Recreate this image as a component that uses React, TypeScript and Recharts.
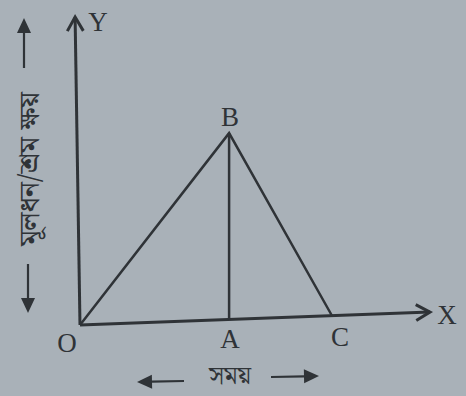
import React from 'react'
import { LineChart, Line, XAxis, YAxis, ReferenceDot } from 'recharts'

// Diagram points, in chart units (x: time, y: depreciation).
// The photo is slightly skewed, so the x axis rises a little toward X.
const POINT_NAMES = ['O', 'A', 'B', 'C']
const POINT_X = [0, 42.6, 42.6, 72]
const POINT_Y = [0, 1.8, 62.3, 3.0]

const X_AXIS_END = { x: 100, y: 4.2 }
const Y_AXIS_END = { x: -1.4, y: 100 }

const Y_TITLE = 'মূলধন/শ্রম ক্ষয়'
const X_TITLE = 'সময়'

const INK = '#2f3337'
const PAPER = '#a9b1b8'
const SERIF = '"Liberation Serif", "DejaVu Serif", serif'
const BENGALI = '"Noto Serif Bengali", "Noto Sans Bengali", "Lohit Bengali", serif'

const pt = (name: string) => {
  const i = POINT_NAMES.indexOf(name)
  return { x: POINT_X[i], y: POINT_Y[i] }
}

const xAxisData = [pt('O'), X_AXIS_END]
const yAxisData = [pt('O'), Y_AXIS_END]
const triangleData = [pt('O'), pt('B'), pt('C')]
const heightData = [pt('B'), pt('A')]

// label offsets from each point (px)
const LABEL_OFFSETS: Record<string, [number, number]> = {
  O: [-13, 18],
  A: [1, 20],
  B: [1, -16],
  C: [8, 21],
  X: [17, 3],
  Y: [23, 5],
}

// open chevron arrowhead on the last point of an axis line
const arrowDot = (props: any) => {
  const { cx, cy, index, points } = props
  if (index !== 1 || !points || points.length < 2) return <g key={index} />
  const p0 = points[0]
  const ang = Math.atan2(cy - p0.y, cx - p0.x)
  const len = 14
  const half = 8
  const bx = cx - len * Math.cos(ang)
  const by = cy - len * Math.sin(ang)
  const nx = -Math.sin(ang) * half
  const ny = Math.cos(ang) * half
  return (
    <path
      key={index}
      d={`M${bx + nx},${by + ny} L${cx},${cy} L${bx - nx},${by - ny}`}
      fill="none"
      stroke={INK}
      strokeWidth={3}
      strokeLinejoin="miter"
    />
  )
}

const pointLabel = (name: string) => (props: any) => {
  const { viewBox } = props
  const [dx, dy] = LABEL_OFFSETS[name]
  const x = viewBox.x + viewBox.width / 2 + dx
  const y = viewBox.y + viewBox.height / 2 + dy
  return (
    <text x={x} y={y} textAnchor="middle" dominantBaseline="central" fill={INK} fontSize={27} fontFamily={SERIF}>
      {name}
    </text>
  )
}

function Arrow({ x1, y1, x2, y2 }: { x1: number; y1: number; x2: number; y2: number }) {
  const ang = Math.atan2(y2 - y1, x2 - x1)
  const len = 15
  const half = 7
  const bx = x2 - len * Math.cos(ang)
  const by = y2 - len * Math.sin(ang)
  const nx = -Math.sin(ang) * half
  const ny = Math.cos(ang) * half
  return (
    <g>
      <line x1={x1} y1={y1} x2={bx} y2={by} stroke={INK} strokeWidth={2.2} />
      <path d={`M${bx + nx},${by + ny} L${x2},${y2} L${bx - nx},${by - ny} Z`} fill={INK} />
    </g>
  )
}

export default function App() {
  return (
    <div style={{ position: 'relative', width: 466, height: 396, background: PAPER, overflow: 'hidden' }}>
      <style>{'body{margin:0}'}</style>
      <LineChart width={466} height={396} margin={{ top: 17, right: 36, bottom: 71, left: 73 }}>
        <XAxis type="number" dataKey="x" domain={[-2, 100]} hide />
        <YAxis type="number" dataKey="y" domain={[0, 100]} hide />
        <Line data={xAxisData} dataKey="y" stroke={INK} strokeWidth={3} dot={arrowDot} activeDot={false} isAnimationActive={false} />
        <Line data={yAxisData} dataKey="y" stroke={INK} strokeWidth={3} dot={arrowDot} activeDot={false} isAnimationActive={false} />
        <Line data={triangleData} dataKey="y" stroke={INK} strokeWidth={2.5} dot={false} activeDot={false} isAnimationActive={false} />
        <Line data={heightData} dataKey="y" stroke={INK} strokeWidth={2.5} dot={false} activeDot={false} isAnimationActive={false} />
        {POINT_NAMES.map((n) => (
          <ReferenceDot key={n} x={pt(n).x} y={pt(n).y} r={1} fill="none" stroke="none" ifOverflow="visible" label={pointLabel(n)} />
        ))}
        <ReferenceDot x={X_AXIS_END.x} y={X_AXIS_END.y} r={1} fill="none" stroke="none" ifOverflow="visible" label={pointLabel('X')} />
        <ReferenceDot x={Y_AXIS_END.x} y={Y_AXIS_END.y} r={1} fill="none" stroke="none" ifOverflow="visible" label={pointLabel('Y')} />
      </LineChart>

      {/* axis titles with their arrows */}
      <svg width={466} height={396} style={{ position: 'absolute', left: 0, top: 0, pointerEvents: 'none' }}>
        <Arrow x1={24} y1={68} x2={24} y2={18} />
        <text
          x={0}
          y={0}
          transform="translate(30,169) rotate(-90)"
          textAnchor="middle"
          dominantBaseline="central"
          fill={INK}
          fontSize={29}
          fontFamily={BENGALI}
        >
          {Y_TITLE}
        </text>
        <Arrow x1={28} y1={264} x2={28} y2={313} />
        <Arrow x1={184} y1={381} x2={137} y2={382} />
        <text x={230} y={377} textAnchor="middle" dominantBaseline="central" fill={INK} fontSize={25} fontFamily={BENGALI}>
          {X_TITLE}
        </text>
        <Arrow x1={271} y1={377} x2={319} y2={376} />
      </svg>
    </div>
  )
}
